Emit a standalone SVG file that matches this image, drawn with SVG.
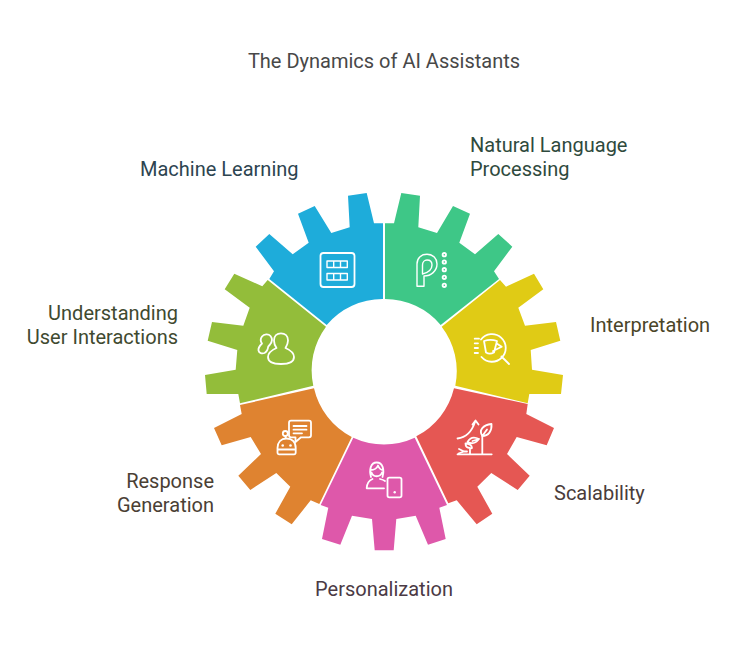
<svg xmlns="http://www.w3.org/2000/svg" width="744" height="648" viewBox="0 0 744 648">
<style>
text{font-family:Roboto,"Liberation Sans",sans-serif;font-size:20px}
.i{fill:none;stroke:#fff;stroke-width:1.800;stroke-linecap:round;stroke-linejoin:round}
.w{fill:#fff;stroke:none}
</style>
<rect width="744" height="648" fill="#fff"/>
<text id="title" x="384" y="67.500" text-anchor="middle" fill="#484848">The Dynamics of AI Assistants</text>
<g id="machine-learning">
<path fill="#1EACDA" d="M383,299V223.300H374L366.700,193L348,195.700L349.700,227.300L331.300,233L314.700,206L298,213.700L308.700,242.700L292.700,254.300L269.300,234L255.700,246.700L274,271.300L269.300,279L326.700,325A73,73 0 0 1 383,299Z"/>
<rect class="i" x="320.500" y="253" width="34" height="34" rx="3"/>
<path class="i" d="M327,261H347.300V267.500H327ZM327,273.500H347.300V280H327ZM333.700,261V267.500M340.500,261V267.500M333.700,273.500V280M340.500,273.500V280" style="stroke-width:1.400"/>
<text x="140" y="175.500" fill="#2D4450">Machine Learning</text>
</g>
<g id="natural-language-processing">
<path fill="#3EC787" d="M385,299V223.300H394L401.300,193L420,195.700L418.300,227.300L437,233L453,206L470,213.700L459.300,242.700L475,254.300L498.300,234L512.300,246.700L494,271.300L499,279L440.700,325A73,73 0 0 0 385,299Z"/>
<path class="i" style="stroke-width:1.400" d="M417,286.300V264C417,258 421,254.300 427,254.300C433,254.300 437,258.500 437,264C437,271 431,276 424,276V286.300Z"/>
<path class="i" style="stroke-width:1.400" d="M422.500,274V265C422.500,262 424.500,260 427,260C430,260 432,262 432,265C432,269 428.500,272.500 422.500,274"/>
<g class="i"><circle cx="444.300" cy="254.700" r="1.700"/><circle cx="444.300" cy="262" r="1.700"/><circle cx="444.300" cy="269.700" r="1.700"/><circle cx="444.300" cy="277.300" r="1.700"/><circle cx="444.300" cy="285.300" r="1.700"/></g>
<text x="470" y="151.500" fill="#2F4A3D">Natural Language</text>
<text x="470" y="175.500" fill="#2F4A3D">Processing</text>
</g>
<g id="interpretation">
<path fill="#E0CB15" d="M441.700,326.700L500,280L506,286.700L534,273.700L543.300,289.300L518.300,307.700L525,325.700L556,322L560.300,340.700L530.700,350L532,369.700L563,375L561,394H529.300L527.700,403.300L455.300,385.700A73,73 0 0 0 441.700,326.700Z"/>
<path class="i" d="M481,339.500A13.800,13.800 0 1 1 481.500,357M501.500,356.500L509,364M474.700,338.700H479M474.700,343.300H478M474.700,348H478M474.700,353H478"/>
<path class="i" d="M484,341C488,339.500 493,339.500 497,341L494,352.500C491,354 488.500,354 486,352.500ZM496.700,343.500L501.700,346.700L493,351"/>
<text x="590" y="331.500" fill="#4A4528">Interpretation</text>
</g>
<g id="scalability">
<path fill="#E55753" d="M454,388.300L527.700,404L526.300,414L554,428L546.700,445.300L516.700,437L507,454L529.700,475.700L517.700,490L491.300,473L477.300,486.700L492.300,513.700L476.700,524.300L456.700,500.300L448.300,503.300L416.300,436.300A73,73 0 0 0 454,388.300Z"/>
<path class="i" d="M457.500,454.300H491.700M482.300,454V436M457.500,438.500C466,437.500 472,431 475,422M472.500,424.500L475.500,420.500L478.500,424.500"/>
<path class="i" d="M482.300,436C478.500,430 483,425 491.500,424C492,431 488.500,436 482.300,436ZM482.300,436L487,429.500M479,439C475,444 471,444 467.500,442C470,437.500 474,436.500 479,439ZM479,439L472.500,441M470,454V448C467,448 465.500,446 465.500,443.500C469,443.500 472,445.500 472,448L470,449M464,451.500L459,449M464,451.500L458.500,453.500M464,451.500H467"/>
<text x="554" y="499.500" fill="#4A3C3A">Scalability</text>
</g>
<g id="personalization">
<path fill="#DE58AA" d="M353.300,437.700L320.700,505L328.300,507.700L322,539L340.300,544.700L352,515.700L372,519L374.700,550.300H393.700L396.300,519L415.700,515.700L428,544.700L445.700,539L439.300,507.700L447,505L414.700,437.700A73,73 0 0 1 353.300,437.700Z"/>
<rect class="i" x="387.500" y="477.700" width="14" height="19.700" rx="1.800"/>
<circle class="w" cx="394.700" cy="492.300" r="1.200"/>
<path class="i" d="M366.700,488.300H384M366.700,488C367,483 369,480.500 372.500,479M380,479C382,479.500 383.500,480 385,481M371,477C369,470 370.500,462.500 376.700,462.500C383,462.500 384.500,470 382.500,477M370.500,470C374,470 377,468 378,465.500C379,468 380.500,470 383,470M371.500,472.500C373,477.500 380,477.500 382,472.500"/>
<text x="384" y="595.500" text-anchor="middle" fill="#4B3A45">Personalization</text>
</g>
<g id="response-generation">
<path fill="#DF8330" d="M351.700,437L319.300,504L310.700,500.300L291.700,524.300L275.300,513.700L290.300,486.700L276.300,473L250.300,490L238.300,475.700L261,454L250.700,437L221.700,445.300L214,428L241.700,414L240,405L314,388.300A73,73 0 0 0 351.700,437Z"/>
<path class="i" d="M291,420.700H309A2,2 0 0 1 311,422.700V435.300A2,2 0 0 1 309,437.300H301L295.500,442V437.300H291A2,2 0 0 1 289,435.300V422.700A2,2 0 0 1 291,420.700ZM293.500,426H306.500M293.500,429.700H306.500M293.500,433.300H302"/>
<path class="i" d="M277.500,448C277.500,442 281,438.500 286.500,438.500C292,438.500 295.700,442 295.700,448V452.500A1.700,1.700 0 0 1 294,454.300H279.200A1.700,1.700 0 0 1 277.500,452.500ZM277.500,449.500H295.700M285.500,438V436"/>
<circle class="i" cx="285.300" cy="433.500" r="2.500"/>
<circle class="w" cx="282.700" cy="445.500" r="1.300"/><circle class="w" cx="290.500" cy="445.500" r="1.300"/>
<text x="214" y="487.500" text-anchor="end" fill="#4A4034">Response</text>
<text x="214" y="511.500" text-anchor="end" fill="#4A4034">Generation</text>
</g>
<g id="understanding-user-interactions">
<path fill="#93BD3A" d="M267.700,280L262.300,286.300L234.300,273.700L224.700,289.300L249.700,307.700L243.300,325.700L212,322L207.700,340.700L237.300,350L235.700,369.700L205,375L206.700,394H238.300L240,403.300L313.300,385.700A73,73 0 0 1 326,326.700Z"/>
<path class="i" d="M276.500,348C274.800,345.500 274,343 274,340.500C274,336 277,333.300 281,333.300C285,333.300 288,336 288,340.500C288,343 287,345.500 285.500,348C290,350 294,353 294,357C294,361.500 289,364 281,364C273,364 268,361.500 268,357C268,353 272,350 276.500,348Z"/>
<path class="i" d="M270,344.500C272,342 272.500,338.500 270.500,336C268.500,333.500 264,333.800 262,336.500C260.500,338.500 260.500,341.500 262,343.500C260,345.500 258,348 258.500,350.500C259,353 262,354 264.500,353C266.500,352 268,349 268,347.500C268,346.500 269,345.500 270,344.500Z"/>
<text x="178" y="319.500" text-anchor="end" fill="#3F4A30">Understanding</text>
<text x="178" y="343.500" text-anchor="end" fill="#3F4A30">User Interactions</text>
</g>
</svg>
